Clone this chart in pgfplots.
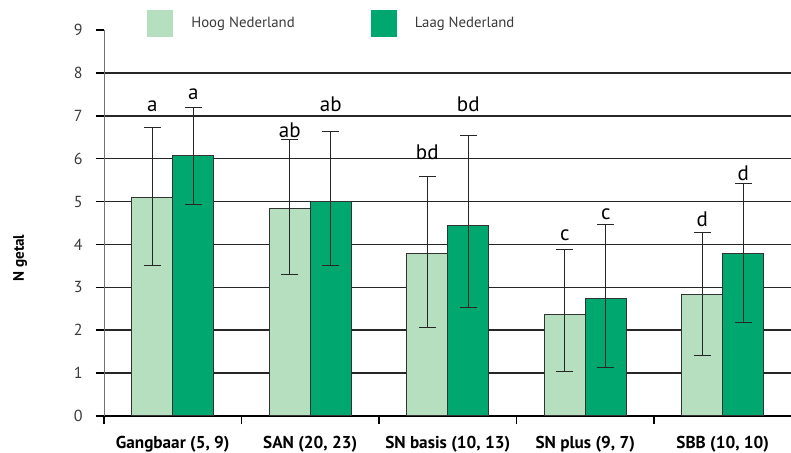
\documentclass[border=0pt]{standalone}
\usepackage{pgfplots}
\usepackage{pgfplotstable}
\pgfplotsset{compat=1.18}
\usepackage{fontspec}
\setmainfont{PT Sans}
\definecolor{hoog}{HTML}{B6DFC0}
\definecolor{laag}{HTML}{00A870}
\definecolor{txt}{HTML}{3A3A3A}
\pgfplotstableread{
x y ep em
0 5.10 1.62 1.60
1 4.83 1.61 1.52
2 3.78 1.81 1.71
3 2.36 1.53 1.32
4 2.83 1.44 1.42
}\hoogdata
\pgfplotstableread{
x y ep em
0 6.07 1.12 1.15
1 5.00 1.63 1.50
2 4.45 2.09 1.91
3 2.73 1.74 1.60
4 3.79 1.62 1.62
}\laagdata
\begin{document}
\begin{tikzpicture}
\begin{axis}[
  at={(0,0)}, anchor=south west,
  scale only axis, width=343.75pt, height=193pt,
  xmin=-0.5, xmax=4.5, ymin=0, ymax=9,
  ybar=0pt, bar width=20.5pt,
  axis x line*=bottom, axis y line*=left,
  x axis line style={black, line width=0.8pt},
  y axis line style={black!55, line width=0.5pt},
  tick align=outside, major tick length=4.2pt,
  xtick={-0.5,0.5,...,4.5}, x tick label as interval,
  xticklabels={{Gangbaar (5, 9)}, {SAN (20, 23)}, {SN basis (10, 13)}, {SN plus (9, 7)}, {SBB (10, 10)}},
  x tick style={black, line width=0.7pt},
  xticklabel style={font=\fontsize{8.6}{10}\selectfont\bfseries, text=black, yshift=-2.5pt},
  ytick={0,...,8},
  extra y ticks={9}, extra y tick style={grid=none},
  y tick style={black, line width=0.8pt},
  yticklabel style={font=\fontsize{8}{9}\selectfont, text=txt, xshift=-3pt},
  /pgf/number format/assume math mode=true,
  ymajorgrids, grid style={black!85, line width=0.8pt},
  ylabel={N getal},
  ylabel style={at={(axis description cs:-0.122,0.409)}, anchor=center, font=\fontsize{7.6}{9}\selectfont\bfseries},
  legend columns=2,
  legend style={at={(0.0625,1.0168)}, anchor=west, draw=none, fill=none, inner sep=0pt,
    font=\fontsize{7.4}{9}\selectfont, text=txt,
    /tikz/every odd column/.append style={column sep=7pt},
    /tikz/every even column/.append style={column sep=36pt}},
  legend image code/.code={\fill[#1,draw=none] (0pt,-6.75pt) rectangle (13pt,6.75pt);},
  error bars/error bar style={black!85, line width=0.5pt},
  error bars/error mark options={rotate=90, mark size=4.25pt, line width=0.5pt, black!85},
]
\addplot[fill=hoog, draw=black!80, line width=0.5pt,
  error bars/.cd, y dir=both, y explicit]
  table[x=x, y=y, y error plus=ep, y error minus=em]{\hoogdata};
\addplot[fill=laag, draw=black!80, line width=0.5pt,
  error bars/.cd, y dir=both, y explicit]
  table[x=x, y=y, y error plus=ep, y error minus=em]{\laagdata};
\legend{Hoog Nederland, Laag Nederland}
\begin{scope}[every node/.style={anchor=base, inner sep=0pt, font=\fontsize{10.5}{12}\selectfont, text=black}]
\node at (axis cs:-0.149,7.09) {a};
\node at (axis cs:0.149,7.39) {a};
\node at (axis cs:0.851,6.50) {ab};
\node at (axis cs:1.149,7.11) {ab};
\node at (axis cs:1.851,5.99) {bd};
\node at (axis cs:2.149,7.09) {bd};
\node at (axis cs:2.851,4.10) {c};
\node at (axis cs:3.149,4.59) {c};
\node at (axis cs:3.851,4.43) {d};
\node at (axis cs:4.149,5.48) {d};
\end{scope}
\end{axis}
\pgfresetboundingbox
\useasboundingbox (-52pt,-18.5pt) rectangle (343.5pt,208pt);
\end{tikzpicture}
\end{document}
